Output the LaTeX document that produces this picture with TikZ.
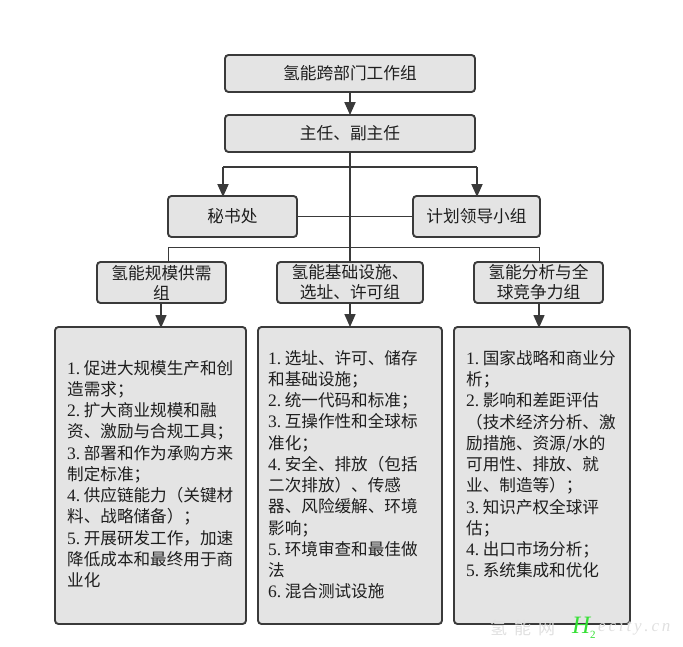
\documentclass[tikz,border=0pt]{standalone}
\usepackage{fontspec}
\setmainfont{Liberation Serif}
\newfontfamily\cjk{Noto Sans CJK SC}
\usetikzlibrary{arrows.meta}
\definecolor{boxfill}{HTML}{E4E4E4}
\definecolor{ink}{HTML}{3A3A3A}
\definecolor{txt}{HTML}{1E1E1E}
\definecolor{wgreen}{HTML}{35E035}
\newcommand{\nm}[1]{{\rmfamily\fontsize{17.5}{21.25}\selectfont #1\hspace{3.5pt}}}
\tikzset{
  boxbase/.style={draw=ink,fill=boxfill,line width=1.9pt,rounded corners=3.5pt,inner sep=0pt,text=txt,align=center,font=\cjk\fontsize{16.7}{20}\selectfont},
  linkarrow/.style={draw=ink,line width=1.9pt,-{Triangle[length=13pt,width=11pt]},shorten >=-1pt},
  linkplain/.style={draw=ink,line width=1.9pt},
  linkthin/.style={draw=ink,line width=0.9pt},
  bodytext/.style={anchor=north west,inner sep=0pt,align=left,text=txt,font=\cjk\fontsize{16.6}{21.25}\selectfont},
  wmark/.style={inner sep=0pt,text=white!88!black,font=\cjk\fontsize{17}{18}\selectfont}
}
\newcommand{\bx}[6]{\node[boxbase,minimum width=#4pt-#2pt,minimum height=#5pt-#3pt] (#1) at ({(#2+#4)/2},{(#3+#5)/2}) {#6};}
\begin{document}
\begin{tikzpicture}[x=1pt,y=-1pt]
\useasboundingbox (0,0) rectangle (683,646);
\bx{top}{225}{55}{475}{92}{氢能跨部门工作组}
\bx{chair}{225}{115}{475}{152}{主任、副主任}
\bx{sec}{168}{196}{297}{237}{秘书处}
\bx{plan}{413}{196}{540}{237}{计划领导小组}
\bx{ga}{97}{262}{226}{303}{氢能规模供需\\组}
\bx{gb}{277}{262}{423}{303}{氢能基础设施、\\选址、许可组}
\bx{gc}{474}{262}{603}{303}{氢能分析与全\\球竞争力组}
\bx{ba}{55}{327}{246}{624}{}
\bx{bb}{258}{327}{442}{624}{}
\bx{bc}{454}{327}{630}{624}{}
% free ends of the connectors
\coordinate (secin) at (223,196);
\coordinate (planin) at (477,196);
\coordinate (busa) at (223,167);
\coordinate (busb) at (477,167);
\coordinate (thinl) at (168,247);
\coordinate (thinr) at (539,247);
\coordinate (gain) at (168,262);
\coordinate (gcin) at (539,262);
\coordinate (gaout) at (161,303);
\coordinate (baout) at (161,327);
\coordinate (gcout) at (539,303);
\coordinate (bcin) at (539,327);
\draw[linkarrow] (top.south) -- (chair.north);
\draw[linkplain] (chair.south) -- (gb.north);
\draw[linkplain] (busa) -- (busb);
\draw[linkarrow] (busa) -- (secin);
\draw[linkarrow] (busb) -- (planin);
\draw[linkplain,line width=1.5pt] (sec.east) -- (plan.west);
\draw[linkthin] (gain) -- (thinl) -- (thinr) -- (gcin);
\draw[linkarrow,line width=1.5pt] (gaout) -- (baout);
\draw[linkarrow,line width=1.5pt] (gb.south) -- (bb.north);
\draw[linkarrow,line width=1.5pt] (gcout) -- (bcin);
\node[bodytext] (ta) at (67,360) {\cjk
\nm{1.}促进大规模生产和创\\
造需求；\\
\nm{2.}扩大商业规模和融\\
资、激励与合规工具；\\
\nm{3.}部署和作为承购方来\\
制定标准；\\
\nm{4.}供应链能力（关键材\\
料、战略储备）；\\
\nm{5.}开展研发工作，加速\\
降低成本和最终用于商\\
业化};
\node[bodytext] (tb) at (268,350) {\cjk
\nm{1.}选址、许可、储存\\
和基础设施；\\
\nm{2.}统一代码和标准；\\
\nm{3.}互操作性和全球标\\
准化；\\
\nm{4.}安全、排放（包括\\
二次排放）、传感\\
器、风险缓解、环境\\
影响；\\
\nm{5.}环境审查和最佳做\\
法\\
\nm{6.}混合测试设施};
\node[bodytext] (tc) at (466,350) {\cjk
\nm{1.}国家战略和商业分\\
析；\\
\nm{2.}影响和差距评估\\
（技术经济分析、激\\
励措施、资源/水的\\
可用性、排放、就\\
业、制造等）；\\
\nm{3.}知识产权全球评\\
估；\\
\nm{4.}出口市场分析；\\
\nm{5.}系统集成和优化};
% watermark
\node[wmark,anchor=west] (wa) at (490,628) {氢\hspace{7pt}能\hspace{7pt}网};
\node[inner sep=0pt,anchor=west,text=wgreen,font=\rmfamily\itshape\fontsize{25}{25}\selectfont] (wb) at (572,625) {H};
\node[inner sep=0pt,anchor=west,text=wgreen,font=\rmfamily\fontsize{11}{11}\selectfont] (wc) at (590,635) {2};
\node[wmark,anchor=west,font=\rmfamily\itshape\fontsize{17}{18}\selectfont] (wd) at (598,628) {e\,c\,i\,t\,y\,.\,c\,n};
\end{tikzpicture}
\end{document}
